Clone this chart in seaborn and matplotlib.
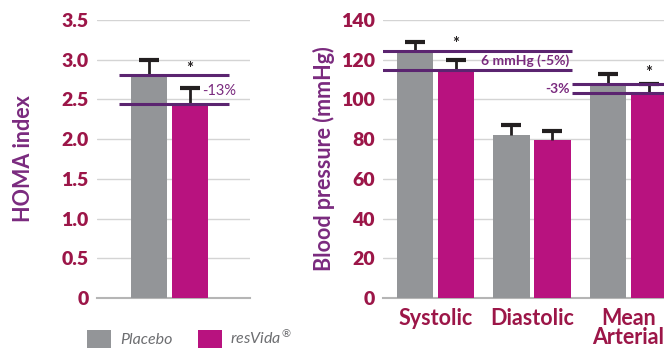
import numpy as np
import pandas as pd
import matplotlib
matplotlib.use("Agg")
import matplotlib.pyplot as plt
import seaborn as sns

# ---- data ----
groups = ["Placebo", "resVida\u00ae"]
homa_means = [2.81, 2.44]
homa_err = [0.19, 0.21]
homa_ticks = [0, 0.5, 1.0, 1.5, 2.0, 2.5, 3.0, 3.5]
homa_ticklabels = ["0", "0.5", "1.0", "1.5", "2.0", "2.5", "3.0", "3.5"]

bp_categories = ["Systolic", "Diastolic", "Mean\nArterial"]
bp_placebo = [124.5, 82.0, 108.0]
bp_placebo_err = [4.2, 5.0, 4.7]
bp_resvida = [115.0, 79.6, 103.4]
bp_resvida_err = [4.7, 4.5, 4.6]
bp_ticks = [0, 20, 40, 60, 80, 100, 120, 140]

# ---- style ----
sns.set_theme(style="white")
plt.rcParams["font.family"] = ["Lato", "DejaVu Sans"]

GRAY = "#939598"
MAGENTA = "#b8127f"
PURPLE_LINE = "#5b2470"
PURPLE_TXT = "#7a2a7e"
CRIMSON = "#9c1648"
GRID = "#d4d4d4"
palette = {groups[0]: GRAY, groups[1]: MAGENTA}

W, H = 664, 349
fig = plt.figure(figsize=(W / 100, H / 100), dpi=100)

def px_axes(x0, x1, ytop, ybot):
    return [x0 / W, (H - ybot) / H, (x1 - x0) / W, (ybot - ytop) / H]

ax1 = fig.add_axes(px_axes(97, 250, 20, 298))
ax2 = fig.add_axes(px_axes(383, 664, 20, 298))

# ---- left chart ----
df_h = pd.DataFrame({"measure": ["HOMA"] * 2, "group": groups, "value": homa_means})
sns.barplot(data=df_h, x="measure", y="value", hue="group", palette=palette,
            width=0.8, gap=0.12, errorbar=None, ax=ax1, legend=False, zorder=3,
            linewidth=0, saturation=1)

# ---- right chart ----
df_b = pd.DataFrame({
    "category": bp_categories * 2,
    "group": [groups[0]] * 3 + [groups[1]] * 3,
    "value": bp_placebo + bp_resvida,
})
sns.barplot(data=df_b, x="category", y="value", hue="group", palette=palette,
            width=0.85, gap=0.12, errorbar=None, ax=ax2, legend=False, zorder=3,
            linewidth=0, saturation=1, order=bp_categories, hue_order=groups)

def bar_centers(ax):
    return [(p.get_x() + p.get_width() / 2, p.get_height()) for p in ax.patches]

def add_err(ax, values, errs):
    centers = bar_centers(ax)
    xs = []
    for v in values:
        for cx, h in centers:
            if abs(h - v) < 1e-9 and cx not in xs:
                xs.append(cx)
                break
    eb = ax.errorbar(xs, values, yerr=[np.zeros(len(errs)), errs], fmt="none",
                     ecolor="#231f20", elinewidth=2, capsize=7.5, capthick=3, zorder=4)
    caps = eb[1]
    if len(caps) == 2:
        caps[0].set_visible(False)
    return xs

hx = add_err(ax1, homa_means, homa_err)
bx = add_err(ax2, bp_placebo + bp_resvida, bp_placebo_err + bp_resvida_err)

for ax, ticks, lim in [(ax1, homa_ticks, (0, 3.5)), (ax2, bp_ticks, (0, 140))]:
    ax.set_ylim(*lim)
    ax.set_yticks(ticks)
    ax.grid(axis="y", color=GRID, linewidth=1, zorder=0)
    ax.grid(axis="x", visible=False)
    for s in ["top", "right", "left"]:
        ax.spines[s].set_visible(False)
    ax.spines["bottom"].set_color("#b5b5b5")
    ax.spines["bottom"].set_linewidth(1.5)
    ax.tick_params(axis="both", length=0, pad=6)
    ax.set_xlabel("")
    ax.set_facecolor("none")
    ax.set_axisbelow(True)

ax1.set_xlim(-0.707, 0.785)
ax1.set_xticks([])
ax1.set_yticklabels(homa_ticklabels, fontsize=14, fontweight="heavy", color=CRIMSON)
ax1.set_ylabel("HOMA index", fontsize=15.5, fontweight="bold", color=PURPLE_TXT, labelpad=20)

ax2.set_xlim(-0.544, 2.368)
ax2.set_yticklabels([str(t) for t in bp_ticks], fontsize=14, fontweight="heavy", color=CRIMSON)
ax2.set_ylabel("Blood pressure (mmHg)", fontsize=15.5, fontweight="bold", color=PURPLE_TXT, labelpad=4)
ax2.tick_params(axis="x", pad=7)
for lab in ax2.get_xticklabels():
    lab.set_fontsize(15.5)
    lab.set_fontweight("bold")
    lab.set_color(CRIMSON)
    lab.set_linespacing(0.9)

# ---- annotations: left ----
ax1.hlines(homa_means, -0.493, 0.58, color=PURPLE_LINE, linewidth=2.2, zorder=5)
ax1.text(hx[1], homa_means[0] + 0.07, "*", ha="center", va="center", fontsize=12,
         color="#231f20", fontweight="bold")
ax1.text(0.32, 2.61, "-13%", ha="left", va="center", fontsize=10.5, color=PURPLE_TXT)

# ---- annotations: right ----
ax2.hlines([bp_placebo[0], bp_resvida[0]], -0.6, 1.415, color=PURPLE_LINE, linewidth=2.2, zorder=5)
ax2.hlines([bp_placebo[2], bp_resvida[2]], 1.415, 2.5, color=PURPLE_LINE, linewidth=2.2, zorder=5)
ax2.text(bx[3], bp_placebo[0] + 3.5, "*", ha="center", va="center", fontsize=12,
         color="#231f20", fontweight="bold")
ax2.text(bx[5], bp_placebo[2] + 5.5, "*", ha="center", va="center", fontsize=12,
         color="#231f20", fontweight="bold")
ax2.text(1.39, 119.3, "6 mmHg (-5%)", ha="right", va="center", fontsize=10,
         color=PURPLE_TXT, fontweight="bold")
ax2.text(1.39, 105.3, "-3%", ha="right", va="center", fontsize=10,
         color=PURPLE_TXT, fontweight="bold")

# ---- legend ----
from matplotlib.patches import Patch
handles = [Patch(facecolor=palette[g], edgecolor="none") for g in groups]
leg_labels = ["Placebo", "resVida$^{\\circledR}$"]
leg = fig.legend(handles, leg_labels, loc="lower left", bbox_to_anchor=(87 / W, 1 / H),
                 ncol=2, frameon=False, borderpad=0, borderaxespad=0,
                 handlelength=1.5, handleheight=1.37, handletextpad=0.55,
                 columnspacing=1.6, prop={"size": 11.5, "style": "italic"})
for t in leg.get_texts():
    t.set_color("#6d6e71")

fig.savefig("out.png", dpi=100)
